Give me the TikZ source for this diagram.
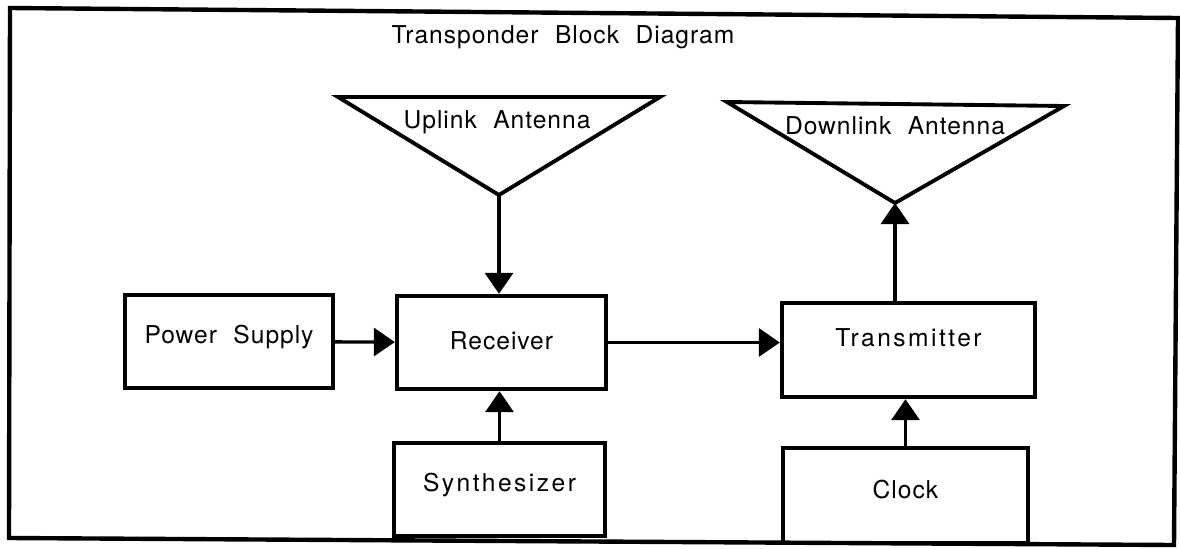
\documentclass[tikz,border=0pt]{standalone}
\usepackage{fontspec}
\setmainfont{TeX Gyre Heros}[LetterSpace=4,WordSpace=2.1]
\newfontfamily\widefont{TeX Gyre Heros}[LetterSpace=10,WordSpace=2.1]
\usetikzlibrary{arrows.meta,positioning}

\tikzset{
  blk/.style={draw, line width=2.5pt, inner sep=0pt, text height=10pt},
  link/.style={line width=1.9pt, -{Triangle[width=0.56cm,length=0.42cm]}},
}

\begin{document}
\begin{tikzpicture}[x=0.02cm, y=-0.02cm, font=\fontsize{14}{16}\selectfont]
\useasboundingbox (0,0) rectangle (1180,548);
\path
 (499,195) coordinate (uptip)
 (895,203) coordinate (dntip)
 ;
% outer frame
\draw[line width=2.5pt] (10,8) -- (1178,18) -- (1174,545) -- (9,538) -- cycle;
\node[anchor=base] (title) at (563,43) {Transponder Block Diagram};

% antennas
\draw[line width=2.2pt, line join=miter] (338,97) -- (660,97) -- (uptip) -- cycle;
\draw[line width=2.2pt, line join=miter] (727,102) -- (1064,106) -- (dntip) -- cycle;
\node[anchor=base] (uplbl) at (497,128) {Uplink Antenna};
\node[anchor=base] (dnlbl) at (895,134) {Downlink Antenna};

% blocks
\node[blk, minimum width=4.16cm, minimum height=1.86cm, text depth=8pt] (psu) at (229,341.5) {Power Supply};
\node[blk, minimum width=4.18cm, minimum height=1.86cm, text depth=2.5pt] (rx) at (501.5,342.5) {Receiver};
\node[blk, minimum width=4.22cm, minimum height=1.86cm, text depth=8pt] (synth) at (499.5,489.5) {\widefont Synthesizer};
\node[blk, minimum width=5.06cm, minimum height=1.88cm, text depth=13.5pt] (tx) at (908.5,350) {\widefont Transmitter};
\node[blk, minimum width=4.90cm, minimum height=1.90cm, text depth=7pt] (clk) at (905.5,495.5) {Clock};

\draw[link] (uptip) -- (uptip |- rx.north);
\draw[link] (psu) -- (rx);
\draw[link] (synth) -- (synth |- rx.south);
\draw[link] (rx.east) -- (rx.east -| tx.west);
\draw[link] (tx.north -| dntip) -- (dntip);
\draw[link] (clk) -- (clk |- tx.south);
\end{tikzpicture}
\end{document}
